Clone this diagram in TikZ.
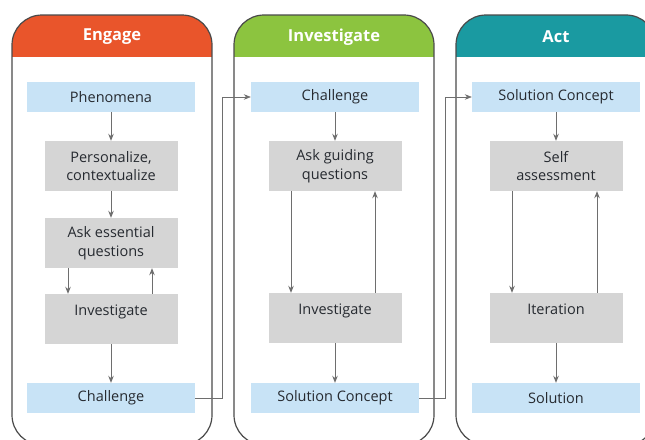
\documentclass[tikz,border=0pt]{standalone}
\usepackage{fontspec}
\setmainfont{Open Sans}
\usetikzlibrary{arrows.meta}
\definecolor{engagecol}{HTML}{E9552B}
\definecolor{investcol}{HTML}{8CC43F}
\definecolor{actcol}{HTML}{1A9AA1}
\definecolor{boxblue}{HTML}{C8E3F6}
\definecolor{boxgray}{HTML}{D5D5D5}
\definecolor{frame}{HTML}{4A4A4A}
\definecolor{arrowgray}{HTML}{6E6E6E}
\definecolor{textdark}{HTML}{262A30}
\tikzset{
  phase/.style={draw=frame, line width=1.2pt, rounded corners=30pt},
  title/.style={text=white, font=\fontsize{16.5}{19}\selectfont\bfseries},
  bluebox/.style={fill=boxblue, minimum width=168pt, minimum height=30pt,
    text=textdark, font=\fontsize{14.5}{18.5}\selectfont},
  graybox/.style={fill=boxgray, minimum width=133pt, minimum height=50pt,
    align=center, text=textdark, font=\fontsize{14.5}{18.5}\selectfont},
  graytop/.style={graybox, text depth=18pt},
  flow/.style={draw=arrowgray, line width=0.9pt, -{Stealth[length=7pt,width=5.5pt]}},
  link/.style={draw=arrowgray, line width=0.6pt, -{Stealth[length=7pt,width=5.5pt]}}
}
\begin{document}
\begin{tikzpicture}[x=1pt,y=-1pt]
  \clip (0,0) rectangle (645,439);
  \fill[white] (0,0) rectangle (645,439);
  % the three phases
  \foreach \left/\col in {12/engagecol, 234/investcol, 456/actcol}{
    \begin{scope}
      \clip[rounded corners=30pt] (\left,15) rectangle (\left+200,445);
      \fill[\col] (\left,15) rectangle (\left+200,57);
    \end{scope}
    \draw[phase] (\left,15) rectangle (\left+200,445);
  }
  \node[title] (engage) at (112,37) {Engage};
  \node[title] (investigate) at (334,37) {Investigate};
  \node[title] (act) at (556,37) {Act};

  \node[bluebox] (phen) at (111,97) {Phenomena};
  \node[graybox] (pers) at (111,166) {Personalize,\\contextualize};
  \node[graybox] (ask1) at (111,243) {Ask essential\\questions};
  \node[graytop] (inv1) at (111,319) {Investigate};
  \node[bluebox] (chal1) at (111,398) {Challenge};

  \node[bluebox] (chal2) at (335,97) {Challenge};
  \node[graybox] (ask2) at (335,166) {Ask guiding\\questions};
  \node[graytop] (inv2) at (335,318) {Investigate};
  \node[bluebox] (sol2) at (335,398) {Solution Concept};

  \node[bluebox] (sol3) at (556,97) {Solution Concept};
  \node[graybox] (self) at (556,166) {Self\\assessment};
  \node[graytop] (iter) at (556,318) {Iteration};
  \node[bluebox] (solution) at (556,398) {Solution};

  \begin{scope}[flow]
    \draw (phen) to (pers);
    \draw (pers) to (ask1);
    \draw ([xshift=-43pt]ask1.south) to ([xshift=-43pt]inv1.north);
    \draw ([xshift=41pt]inv1.north) to ([xshift=41pt]ask1.south);
    \draw (inv1) to (chal1);
    \draw (chal2) to (ask2);
    \draw ([xshift=-44pt]ask2.south) to ([xshift=-44pt]inv2.north);
    \draw ([xshift=40pt]inv2.north) to ([xshift=40pt]ask2.south);
    \draw (inv2) to (sol2);
    \draw (sol3) to (self);
    \draw ([xshift=-44pt]self.south) to ([xshift=-44pt]iter.north);
    \draw ([xshift=41pt]iter.north) to ([xshift=41pt]self.south);
    \draw (iter) to (solution);
  \end{scope}
  \draw[link] (chal1.east) -- (222,398) |- (chal2.west);
  \draw[link] (sol2.east) -- (445,398) |- (sol3.west);
\end{tikzpicture}
\end{document}
